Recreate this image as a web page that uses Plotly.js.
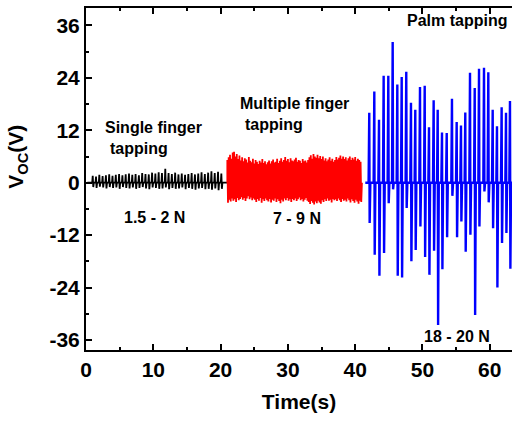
<!DOCTYPE html>
<html>
<head>
<meta charset="utf-8">
<script src="https://cdn.plot.ly/plotly-3.0.1.min.js"></script>
<style>html,body{margin:0;padding:0;background:#fff;}#chart{width:512px;height:423px;}</style>
</head>
<body>
<div id="chart"></div>
<script>
// ---------- DATA ----------
// Single finger tapping (1.5 - 2 N), 0-21 s
const blackStart = 1.0;
const blackStep = 0.49;
const blackPeaks = [1.6, 1.4, 1.8, 1.5, 1.7, 1.9, 1.6, 1.8, 2.0, 1.7,
                    1.9, 2.1, 1.8, 2.0, 1.7, 2.2, 2.0, 1.9, 2.3, 2.1,
                    2.4, 2.2, 3.2, 2.2, 2.0, 2.3, 1.9, 2.1, 1.8, 2.0,
                    2.2, 1.9, 2.1, 2.4, 2.0, 2.3, 2.6, 2.2, 2.5, 2.1];
const blackTroughs = [-1.0, -1.2, -0.9, -1.1, -1.3, -1.0, -1.2, -1.1, -1.4, -1.0,
                      -1.2, -1.3, -1.1, -1.4, -1.2, -1.0, -1.3, -1.5, -1.1, -1.2,
                      -1.4, -1.3, -1.1, -1.5, -1.2, -1.4, -1.3, -1.1, -1.5, -1.2,
                      -1.4, -1.6, -1.3, -1.2, -1.5, -1.4, -1.6, -1.3, -1.7, -1.4];

// Multiple finger tapping (7 - 9 N), 21-41 s : upper / lower excursions every 0.2 s
const redStart = 21.0;
const redStep = 0.2;
const redTop = [5.2, 5.8, 6.4, 5.5, 6.9, 7.1, 6.0, 6.6, 5.4, 6.2,
                5.1, 5.8, 4.9, 5.6, 5.3, 4.6, 5.9, 5.0, 4.7, 5.5,
                4.4, 5.2, 4.8, 4.3, 5.0, 4.6, 5.4, 4.5, 4.9, 4.2,
                4.7, 5.1, 4.4, 4.9, 5.3, 4.6, 4.8, 5.5, 4.5, 5.0,
                5.6, 4.8, 5.2, 5.9, 5.0, 5.4, 4.7, 5.6, 5.1, 4.9,
                5.3, 5.7, 4.8, 5.2, 5.0, 4.5, 5.4, 4.9, 5.1, 4.6,
                5.2, 5.8, 6.3, 5.5, 6.6, 6.0, 5.7, 6.4, 5.6, 6.1,
                5.4, 6.0, 5.1, 5.6, 4.9, 5.3, 5.8, 5.0, 5.5, 4.8,
                5.2, 5.9, 5.3, 5.7, 6.2, 5.5, 6.0, 5.4, 5.8, 5.1,
                5.6, 6.0, 5.2, 5.7, 5.3, 5.9, 5.0, 5.5, 5.2, 4.8];
const redBottom = [-4.6, -3.9, -4.3, -3.6, -4.1, -3.8, -4.4, -3.5, -4.0, -3.7,
                   -3.3, -3.9, -3.5, -4.2, -3.6, -3.1, -3.8, -3.4, -4.0, -3.6,
                   -3.9, -4.4, -3.7, -4.1, -3.5, -4.6, -3.8, -4.2, -3.6, -4.0,
                   -4.3, -3.7, -4.5, -3.9, -4.1, -3.6, -4.4, -3.8, -4.2, -4.7,
                   -3.9, -4.3, -3.6, -4.0, -3.5, -4.1, -3.8, -4.4, -3.7, -4.0,
                   -3.6, -4.2, -3.8, -3.4, -4.0, -3.7, -4.3, -3.9, -3.5, -4.1,
                   -4.4, -4.9, -4.2, -4.6, -5.0, -4.3, -4.7, -4.1, -4.5, -4.8,
                   -4.0, -4.4, -3.8, -4.2, -3.6, -4.1, -3.9, -4.5, -3.7, -4.0,
                   -3.8, -4.2, -3.6, -4.0, -4.4, -3.7, -4.1, -3.9, -4.3, -3.6,
                   -4.0, -4.5, -3.8, -4.2, -4.6, -3.9, -4.3, -4.8, -4.1, -4.4];

// Palm tapping (18 - 20 N), 41.5-63 s
const blueBaseStart = 41.5;
const blueTimes = [42.09, 42.84, 43.54, 44.23, 44.92, 45.57, 46.26, 46.91, 47.59, 48.29,
                   48.93, 49.63, 50.33, 50.97, 51.66, 52.26, 52.90, 53.60, 54.38, 55.08,
                   55.72, 56.36, 57.06, 57.76, 58.40, 59.14, 59.78, 60.43, 61.07, 61.76,
                   62.41, 63.00];
const bluePeaks = [16.0, 20.9, 14.4, 24.5, 24.5, 32.2, 22.5, 24.2, 25.4, 18.3,
                   16.7, 21.9, 22.2, 12.7, 18.9, 16.7, 11.5, 11.4, 19.2, 13.9,
                   13.1, 16.1, 25.2, 21.7, 26.1, 26.3, 25.3, 16.7, 12.9, 17.3,
                   16.0, 18.7];
const blueTroughs = [-9.2, -16.5, -21.3, -16.1, -4.7, -1.5, -21.3, -21.7, -5.8, -18.0,
                     -15.4, -10.0, -17.0, -21.1, -15.6, -32.6, -19.8, -12.5, -3.0, -12.5,
                     -8.9, -15.8, -11.9, -30.3, -10.0, -2.0, -4.5, -10.4, -24.0, -13.8,
                     -11.5, -19.7];

const xTickVals = [0, 10, 20, 30, 40, 50, 60];
const yTickVals = [-36, -24, -12, 0, 12, 24, 36];

// ---------- BUILD TRACES ----------
const bx = [0.2], by = [0];
blackPeaks.forEach((p, i) => {
  const t = blackStart + i * blackStep;
  bx.push(t - 0.08, t, t + 0.08, t + 0.16);
  by.push(0, p, blackTroughs[i], 0);
});
bx.push(21.0); by.push(0);

const rx = [21.0], ry = [0];
redTop.forEach((v, i) => {
  const t = redStart + i * redStep;
  rx.push(t, t + redStep / 2);
  ry.push(v, redBottom[i]);
});
rx.push(41.0); ry.push(0);

const ux = [blueBaseStart], uy = [0];
blueTimes.forEach((t, i) => {
  ux.push(t - 0.1, t, t + 0.06, t + 0.16);
  uy.push(0, bluePeaks[i], blueTroughs[i], 0);
});
ux.push(63.5); uy.push(0);

const traces = [
  {x: bx, y: by, mode: 'lines', line: {color: '#000000', width: 1.8}, hoverinfo: 'skip'},
  {x: rx, y: ry, mode: 'lines', line: {color: '#ff0000', width: 1.8}, hoverinfo: 'skip'},
  {x: ux, y: uy, mode: 'lines', line: {color: '#0000ff', width: 2.4}, hoverinfo: 'skip'}
];

const fontFam = 'Liberation Sans, Arial, sans-serif';
const annFont = {family: fontFam, size: 16, color: '#000', weight: 'bold'};

const layout = {
  width: 512, height: 423,
  margin: {l: 86, r: 0, t: 8, b: 73},
  paper_bgcolor: '#fff', plot_bgcolor: '#fff',
  showlegend: false,
  xaxis: {
    range: [0, 63.3],
    tickvals: xTickVals,
    ticktext: xTickVals.map(String),
    ticks: 'inside', ticklen: 6, tickwidth: 2, tickcolor: '#000',
    minor: {dtick: 5, tick0: 0, ticks: 'inside', ticklen: 3, tickwidth: 2, tickcolor: '#000'},
    showline: true, linewidth: 2, linecolor: '#000', mirror: 'ticks',
    showgrid: false, zeroline: false,
    tickfont: {family: fontFam, size: 21, color: '#000', weight: 'bold'},
    title: {text: 'Time(s)', font: {family: fontFam, size: 21, color: '#000', weight: 'bold'}, standoff: 14}
  },
  yaxis: {
    range: [-38.3, 40],
    tickvals: yTickVals,
    ticktext: yTickVals.map(String),
    ticks: 'inside', ticklen: 6, tickwidth: 2, tickcolor: '#000',
    minor: {dtick: 6, tick0: 0, ticks: 'inside', ticklen: 3, tickwidth: 2, tickcolor: '#000'},
    showline: true, linewidth: 2, linecolor: '#000',
    showgrid: false, zeroline: false,
    tickfont: {family: fontFam, size: 21, color: '#000', weight: 'bold'}
  },
  annotations: [
    {xref: 'paper', yref: 'paper', x: -0.162, y: 0.565, text: 'V<sub>OC</sub>(V)', textangle: -90,
     showarrow: false, xanchor: 'center', yanchor: 'middle',
     font: {family: fontFam, size: 21, color: '#000', weight: 'bold'}},
    {x: 2.5, y: 12.6, text: 'Single finger', showarrow: false, xanchor: 'left', yanchor: 'middle', font: annFont},
    {x: 3.3, y: 7.8, text: 'tapping', showarrow: false, xanchor: 'left', yanchor: 'middle', font: annFont},
    {x: 10.25, y: -8.0, text: '1.5 - 2 N', showarrow: false, xanchor: 'center', yanchor: 'middle', font: annFont},
    {x: 22.6, y: 18.1, text: 'Multiple finger', showarrow: false, xanchor: 'left', yanchor: 'middle', font: annFont},
    {x: 23.3, y: 13.4, text: 'tapping', showarrow: false, xanchor: 'left', yanchor: 'middle', font: annFont},
    {x: 31.4, y: -8.3, text: '7 - 9 N', showarrow: false, xanchor: 'center', yanchor: 'middle', font: annFont},
    {x: 55.1, y: 37.2, text: 'Palm tapping', showarrow: false, xanchor: 'center', yanchor: 'middle', font: annFont},
    {x: 55.1, y: -35.3, text: '18 - 20 N', showarrow: false, xanchor: 'center', yanchor: 'middle', font: annFont}
  ]
};

Plotly.newPlot('chart', traces, layout, {staticPlot: true, displayModeBar: false});
</script>
</body>
</html>
